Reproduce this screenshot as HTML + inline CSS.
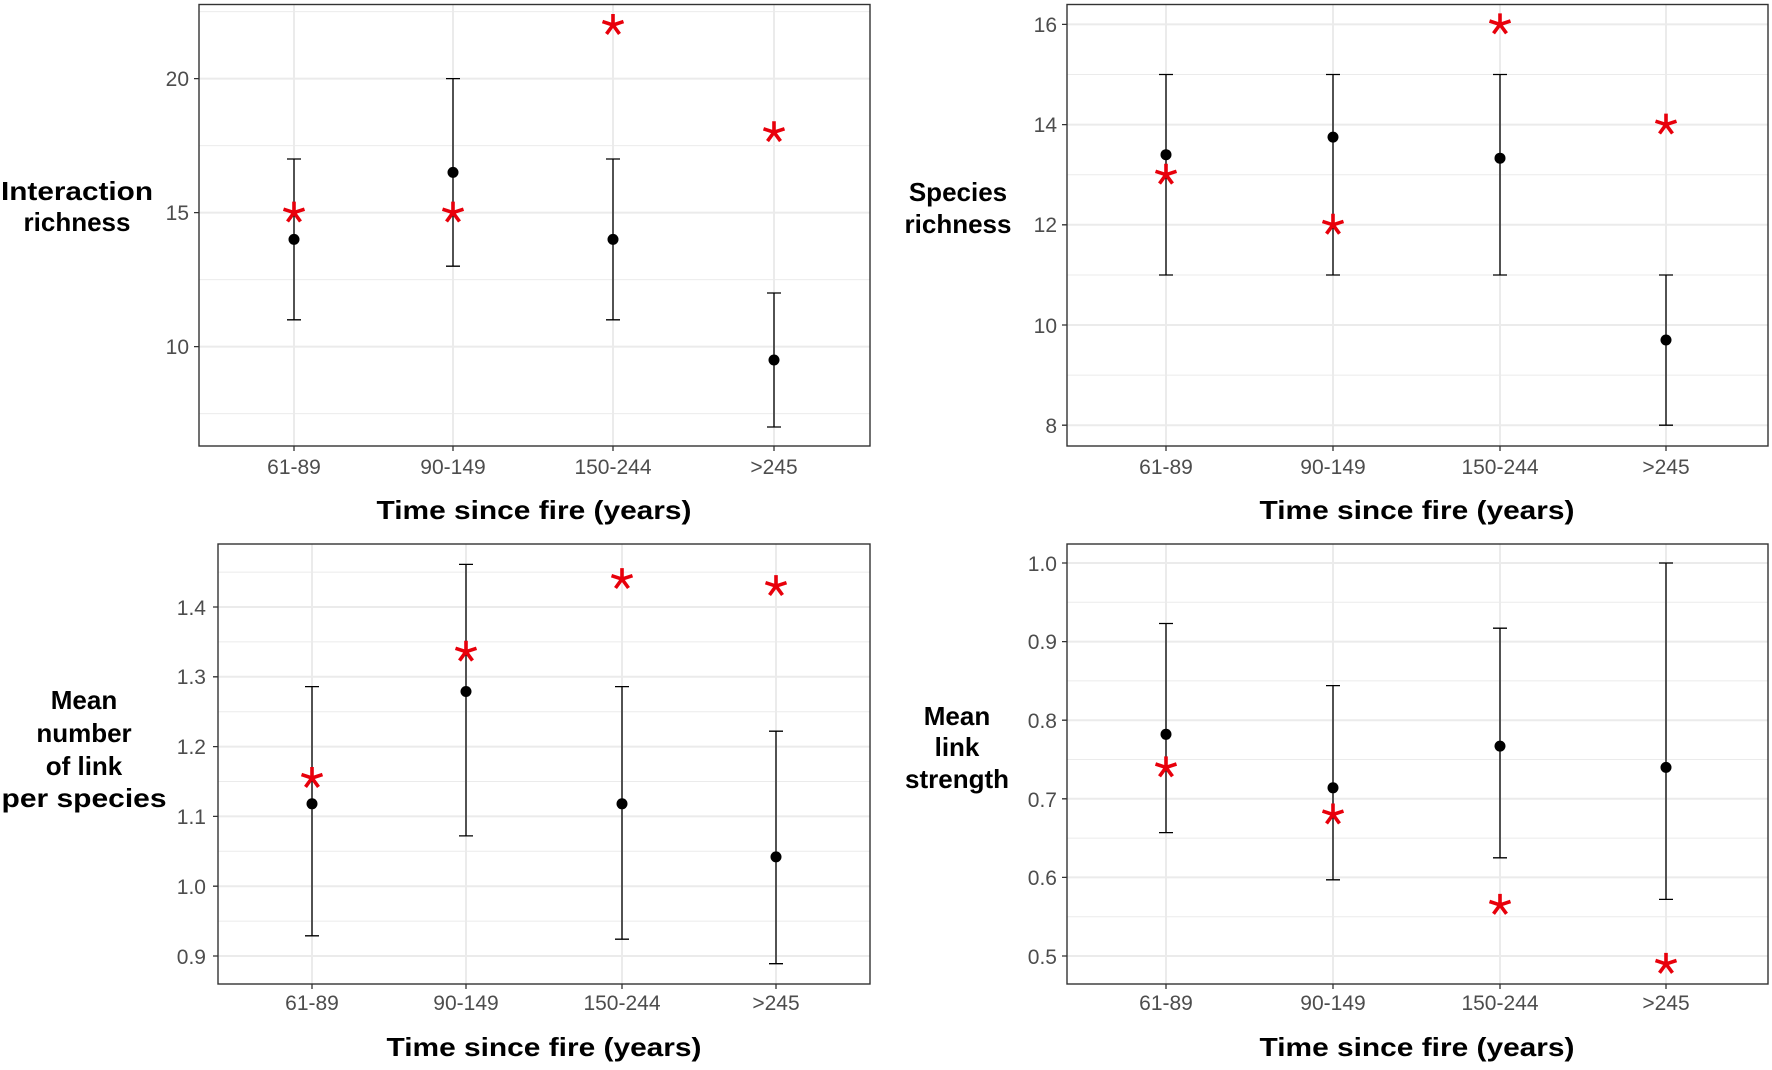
<!DOCTYPE html>
<html><head><meta charset="utf-8"><style>
html,body{margin:0;padding:0;background:#fff}
svg{display:block}
.tk{font-family:"Liberation Sans",sans-serif;font-size:21px;fill:#4d4d4d}
.tt{font-family:"Liberation Sans",sans-serif;font-size:26px;font-weight:bold;fill:#000}
.mj{stroke:#ebebeb;stroke-width:2}
.mn{stroke:#ebebeb;stroke-width:1}
.eb{stroke:#000;stroke-width:1.3;fill:none}
.bx{fill:none;stroke:#333;stroke-width:1.4}
.tm{stroke:#333;stroke-width:1.3}
</style></head><body>
<svg width="1772" height="1070" viewBox="0 0 1772 1070" xmlns="http://www.w3.org/2000/svg">
<defs>
<g id="s"><path d="M0,0L0,-11M0,0L10.5,-3.4M0,0L6.5,8.9M0,0L-6.5,8.9M0,0L-10.5,-3.4" stroke="#e8000b" stroke-width="3.6" stroke-linecap="butt"/></g>
</defs>

<!-- Panel 1 -->
<g>
<path class="mn" d="M199,11.6H870M199,145.6H870M199,279.6H870M199,413.6H870"/>
<path class="mj" d="M199,78.6H870M199,212.6H870M199,346.6H870M294,4.5V446M453,4.5V446M613,4.5V446M774,4.5V446"/>
<path class="eb" d="M294,319.8V159M287,319.8H301M287,159H301M453,266.2V78.6M446,266.2H460M446,78.6H460M613,319.8V159M606,319.8H620M606,159H620M774,427V293M767,427H781M767,293H781"/>
<circle cx="294" cy="239.4" r="5.5"/><circle cx="453" cy="172.4" r="5.5"/><circle cx="613" cy="239.4" r="5.5"/><circle cx="774" cy="360" r="5.5"/>
<use href="#s" x="294" y="212.6"/><use href="#s" x="453" y="212.6"/><use href="#s" x="613" y="25"/><use href="#s" x="774" y="132.2"/>
<rect class="bx" x="199" y="4.5" width="671" height="441.5"/>
<path class="tm" d="M194,78.6H199M194,212.6H199M194,346.6H199M294,446V451M453,446V451M613,446V451M774,446V451"/>
<g class="tk" text-anchor="end"><text x="189" y="86">20</text><text x="189" y="220">15</text><text x="189" y="354">10</text></g>
<g class="tk" text-anchor="middle"><text x="294" y="474">61-89</text><text x="453" y="474">90-149</text><text x="613" y="474">150-244</text><text x="774" y="474">&gt;245</text></g>
<text class="tt" x="534" y="519" text-anchor="middle" textLength="315" lengthAdjust="spacingAndGlyphs">Time since fire (years)</text>
<text class="tt" x="77" y="200" text-anchor="middle" textLength="152" lengthAdjust="spacingAndGlyphs">Interaction</text>
<text class="tt" x="77" y="231" text-anchor="middle">richness</text>
</g>

<!-- Panel 2 -->
<g>
<path class="mn" d="M1067,375.1H1768M1067,275H1768M1067,174.7H1768M1067,74.5H1768"/>
<path class="mj" d="M1067,425.2H1768M1067,325H1768M1067,224.8H1768M1067,124.6H1768M1067,24.4H1768M1166,4.5V446M1333,4.5V446M1500,4.5V446M1666,4.5V446"/>
<path class="eb" d="M1166,275V74.5M1159,275H1173M1159,74.5H1173M1333,275V74.5M1326,275H1340M1326,74.5H1340M1500,275V74.5M1493,275H1507M1493,74.5H1507M1666,425.2V275M1659,425.2H1673M1659,275H1673"/>
<circle cx="1166" cy="154.7" r="5.5"/><circle cx="1333" cy="137.1" r="5.5"/><circle cx="1500" cy="158.2" r="5.5"/><circle cx="1666" cy="340" r="5.5"/>
<use href="#s" x="1166" y="174.7"/><use href="#s" x="1333" y="224.8"/><use href="#s" x="1500" y="24.4"/><use href="#s" x="1666" y="124.6"/>
<rect class="bx" x="1067" y="4.5" width="701" height="441.5"/>
<path class="tm" d="M1062,425.2H1067M1062,325H1067M1062,224.8H1067M1062,124.6H1067M1062,24.4H1067M1166,446V451M1333,446V451M1500,446V451M1666,446V451"/>
<g class="tk" text-anchor="end"><text x="1057" y="433">8</text><text x="1057" y="333">10</text><text x="1057" y="232">12</text><text x="1057" y="132">14</text><text x="1057" y="32">16</text></g>
<g class="tk" text-anchor="middle"><text x="1166" y="474">61-89</text><text x="1333" y="474">90-149</text><text x="1500" y="474">150-244</text><text x="1666" y="474">&gt;245</text></g>
<text class="tt" x="1417" y="519" text-anchor="middle" textLength="315" lengthAdjust="spacingAndGlyphs">Time since fire (years)</text>
<text class="tt" x="958" y="201" text-anchor="middle">Species</text>
<text class="tt" x="958" y="233" text-anchor="middle">richness</text>
</g>

<!-- Panel 3 -->
<g>
<path class="mn" d="M218,921.1H870M218,851.3H870M218,781.5H870M218,711.7H870M218,641.9H870M218,572.1H870"/>
<path class="mj" d="M218,956H870M218,886.2H870M218,816.4H870M218,746.6H870M218,676.8H870M218,607H870M312,544V984M466,544V984M622,544V984M776,544V984"/>
<path class="eb" d="M312,935.8V686.6M305,935.8H319M305,686.6H319M466,835.9V564.4M459,835.9H473M459,564.4H473M622,939.2V686.6M615,939.2H629M615,686.6H629M776,963.7V731.2M769,963.7H783M769,731.2H783"/>
<circle cx="312" cy="803.8" r="5.5"/><circle cx="466" cy="691.5" r="5.5"/><circle cx="622" cy="803.8" r="5.5"/><circle cx="776" cy="856.9" r="5.5"/>
<use href="#s" x="312" y="778"/><use href="#s" x="466" y="651.7"/><use href="#s" x="622" y="579.1"/><use href="#s" x="776" y="586.1"/>
<rect class="bx" x="218" y="544" width="652" height="440"/>
<path class="tm" d="M213,956H218M213,886.2H218M213,816.4H218M213,746.6H218M213,676.8H218M213,607H218M312,984V989M466,984V989M622,984V989M776,984V989"/>
<g class="tk" text-anchor="end"><text x="206" y="964">0.9</text><text x="206" y="894">1.0</text><text x="206" y="824">1.1</text><text x="206" y="754">1.2</text><text x="206" y="684">1.3</text><text x="206" y="615">1.4</text></g>
<g class="tk" text-anchor="middle"><text x="312" y="1010">61-89</text><text x="466" y="1010">90-149</text><text x="622" y="1010">150-244</text><text x="776" y="1010">&gt;245</text></g>
<text class="tt" x="544" y="1056" text-anchor="middle" textLength="315" lengthAdjust="spacingAndGlyphs">Time since fire (years)</text>
<text class="tt" x="84" y="709" text-anchor="middle">Mean</text>
<text class="tt" x="84" y="742" text-anchor="middle">number</text>
<text class="tt" x="84" y="775" text-anchor="middle">of link</text>
<text class="tt" x="84" y="807" text-anchor="middle" textLength="165" lengthAdjust="spacingAndGlyphs">per species</text>
</g>

<!-- Panel 4 -->
<g>
<path class="mn" d="M1067,916.7H1768M1067,838.1H1768M1067,759.5H1768M1067,680.9H1768M1067,602.3H1768"/>
<path class="mj" d="M1067,956H1768M1067,877.4H1768M1067,798.8H1768M1067,720.2H1768M1067,641.6H1768M1067,563H1768M1166,544V984M1333,544V984M1500,544V984M1666,544V984"/>
<path class="eb" d="M1166,832.6V623.5M1159,832.6H1173M1159,623.5H1173M1333,879.8V685.6M1326,879.8H1340M1326,685.6H1340M1500,857.8V628.2M1493,857.8H1507M1493,628.2H1507M1666,899.4V563M1659,899.4H1673M1659,563H1673"/>
<circle cx="1166" cy="734.3" r="5.5"/><circle cx="1333" cy="787.8" r="5.5"/><circle cx="1500" cy="746.1" r="5.5"/><circle cx="1666" cy="767.4" r="5.5"/>
<use href="#s" x="1166" y="767.4"/><use href="#s" x="1333" y="814.5"/><use href="#s" x="1500" y="904.9"/><use href="#s" x="1666" y="963.9"/>
<rect class="bx" x="1067" y="544" width="701" height="440"/>
<path class="tm" d="M1062,956H1067M1062,877.4H1067M1062,798.8H1067M1062,720.2H1067M1062,641.6H1067M1062,563H1067M1166,984V989M1333,984V989M1500,984V989M1666,984V989"/>
<g class="tk" text-anchor="end"><text x="1057" y="964">0.5</text><text x="1057" y="885">0.6</text><text x="1057" y="807">0.7</text><text x="1057" y="728">0.8</text><text x="1057" y="649">0.9</text><text x="1057" y="571">1.0</text></g>
<g class="tk" text-anchor="middle"><text x="1166" y="1010">61-89</text><text x="1333" y="1010">90-149</text><text x="1500" y="1010">150-244</text><text x="1666" y="1010">&gt;245</text></g>
<text class="tt" x="1417" y="1056" text-anchor="middle" textLength="315" lengthAdjust="spacingAndGlyphs">Time since fire (years)</text>
<text class="tt" x="957" y="725" text-anchor="middle">Mean</text>
<text class="tt" x="957" y="756" text-anchor="middle">link</text>
<text class="tt" x="957" y="788" text-anchor="middle">strength</text>
</g>
</svg>
</body></html>
